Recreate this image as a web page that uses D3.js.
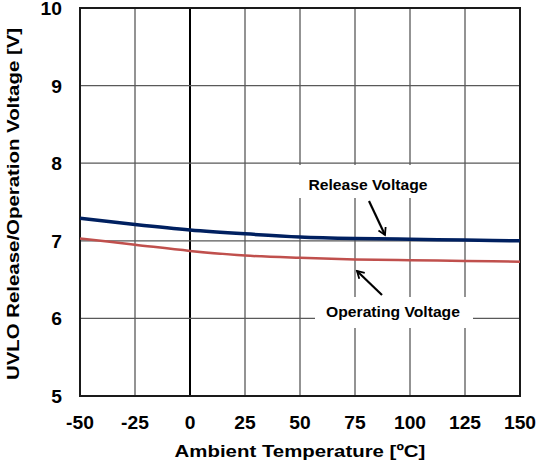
<!DOCTYPE html>
<html>
<head>
<meta charset="utf-8">
<script src="https://cdn.jsdelivr.net/npm/d3@7"></script>
<style>
  body { margin: 0; background: #fff; }
  text { font-family: "Liberation Sans", Arial, sans-serif; font-weight: bold; fill: #000; }
</style>
</head>
<body>
<div id="chart"></div>
<script>
// data
var temps = [-50, -25, 0, 25, 50, 75, 100, 125, 150];
var release = [7.29, 7.21, 7.14, 7.09, 7.05, 7.03, 7.02, 7.01, 7.00];
var operating = [7.03, 6.95, 6.87, 6.81, 6.78, 6.76, 6.75, 6.74, 6.73];
var xTicks = [-50, -25, 0, 25, 50, 75, 100, 125, 150];
var yTicks = [5, 6, 7, 8, 9, 10];

const margin = {top: 8, right: 18, bottom: 67, left: 80};
const width = 538 - margin.left - margin.right;
const height = 463 - margin.top - margin.bottom;

var svg = d3.select("#chart").append("svg")
  .attr("width", 538)
  .attr("height", 463)
  .append("g")
  .attr("transform", "translate(" + margin.left + "," + margin.top + ")");

var x = d3.scaleLinear().domain([-50, 150]).range([0, width]);
var y = d3.scaleLinear().domain([5, 10]).range([height, 0]);

// the original font runs wider than Liberation, so stretch text a bit
function stretch(sel, k) {
  sel.each(function() {
    var len = this.getComputedTextLength();
    d3.select(this)
      .attr("textLength", len * k)
      .attr("lengthAdjust", "spacingAndGlyphs");
  });
}

// grid
svg.selectAll("line.vgrid")
  .data(xTicks)
  .enter().append("line")
  .attr("class", "vgrid")
  .attr("x1", function(d) { return x(d); })
  .attr("x2", function(d) { return x(d); })
  .attr("y1", 0)
  .attr("y2", height)
  .attr("stroke", function(d) { return d == 0 ? "#000" : "#595959"; })
  .attr("stroke-width", function(d) { return d == 0 ? 2 : 1.3; });

svg.selectAll("line.hgrid")
  .data(yTicks)
  .enter().append("line")
  .attr("class", "hgrid")
  .attr("x1", 0)
  .attr("x2", width)
  .attr("y1", function(d) { return y(d); })
  .attr("y2", function(d) { return y(d); })
  .attr("stroke", "#595959")
  .attr("stroke-width", 1.3);

// white boxes behind the labels
svg.append("rect")
  .attr("x", 212).attr("y", 157)
  .attr("width", 152).attr("height", 33)
  .attr("fill", "#fff");
svg.append("rect")
  .attr("x", 235).attr("y", 289)
  .attr("width", 158).attr("height", 31)
  .attr("fill", "#fff");

// frame
svg.append("rect")
  .attr("x", 0).attr("y", 0)
  .attr("width", width).attr("height", height)
  .attr("fill", "none")
  .attr("stroke", "#1a1a1a")
  .attr("stroke-width", 2);

var line = d3.line()
  .x(function(d) { return x(d[0]); })
  .y(function(d) { return y(d[1]); })
  .curve(d3.curveMonotoneX);

svg.append("path")
  .datum(d3.zip(temps, operating))
  .attr("d", line)
  .attr("fill", "none")
  .attr("stroke", "#C0504D")
  .attr("stroke-width", 2.5);

svg.append("path")
  .datum(d3.zip(temps, release))
  .attr("d", line)
  .attr("fill", "none")
  .attr("stroke", "#002060")
  .attr("stroke-width", 3.5);

// tick labels
svg.selectAll("text.xt")
  .data(xTicks)
  .enter().append("text")
  .attr("class", "xt")
  .attr("x", function(d) { return x(d); })
  .attr("y", height + 33)
  .attr("text-anchor", "middle")
  .attr("font-size", "17.5px")
  .text(function(d) { return d; })
  .call(stretch, 1.1);

svg.selectAll("text.yt")
  .data(yTicks)
  .enter().append("text")
  .attr("class", "yt")
  .attr("x", -18)
  .attr("y", function(d) { return y(d) + 7; })
  .attr("text-anchor", "end")
  .attr("font-size", "17.5px")
  .text(function(d) { return d; })
  .call(stretch, 1.1);

// axis titles
svg.append("text")
  .attr("x", width / 2)
  .attr("y", height + 61)
  .attr("text-anchor", "middle")
  .attr("font-size", "17px")
  .text("Ambient Temperature [ºC]")
  .call(stretch, 1.2);

svg.append("text")
  .attr("transform", "translate(" + (-61) + "," + (height / 2 + 2) + ") rotate(-90)")
  .attr("text-anchor", "middle")
  .attr("font-size", "17px")
  .text("UVLO Release/Operation Voltage [V]")
  .call(stretch, 1.2);

// annotations
svg.append("defs").append("marker")
  .attr("id", "arr")
  .attr("viewBox", "0 0 10 10")
  .attr("refX", 8).attr("refY", 5)
  .attr("markerWidth", 4.5).attr("markerHeight", 4.5)
  .attr("orient", "auto")
  .append("path")
  .attr("d", "M1,1 L8,5 L1,9")
  .attr("fill", "none")
  .attr("stroke", "#000")
  .attr("stroke-width", 1.8);

svg.append("text")
  .attr("x", 288).attr("y", 182)
  .attr("text-anchor", "middle")
  .attr("font-size", "14px")
  .text("Release Voltage")
  .call(stretch, 1.12);

svg.append("line")
  .attr("x1", 289).attr("y1", 193)
  .attr("x2", 305).attr("y2", 227)
  .attr("stroke", "#000").attr("stroke-width", 2.2)
  .attr("marker-end", "url(#arr)");

svg.append("text")
  .attr("x", 313).attr("y", 309)
  .attr("text-anchor", "middle")
  .attr("font-size", "14px")
  .text("Operating Voltage")
  .call(stretch, 1.12);

svg.append("line")
  .attr("x1", 302).attr("y1", 287)
  .attr("x2", 277).attr("y2", 263)
  .attr("stroke", "#000").attr("stroke-width", 2.2)
  .attr("marker-end", "url(#arr)");
</script>
</body>
</html>
